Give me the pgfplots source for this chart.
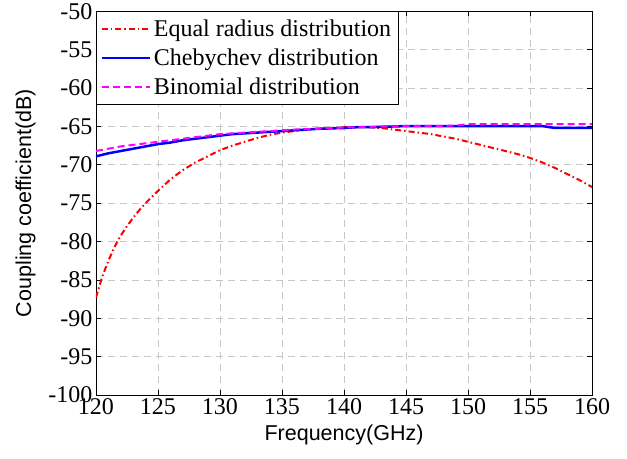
\documentclass[border=0pt]{standalone}
\usepackage{fontspec}
\setmainfont{Liberation Serif}
\newfontfamily\arial{Liberation Sans}
\usepackage{pgfplots}
\pgfplotsset{compat=1.18}
\definecolor{mred}{RGB}{255,0,0}
\definecolor{mblue}{RGB}{0,0,255}
\definecolor{mmag}{RGB}{255,0,255}
\begin{document}
\begin{tikzpicture}
\begin{axis}[
  width=496bp, height=383.5bp, scale only axis,
  xmin=120, xmax=160, ymin=-100, ymax=-50,
  xtick={120,125,...,160}, ytick={-100,-95,...,-50},
  grid=major,
  major grid style={color=black!22, dash pattern=on 7bp off 5bp, line width=0.7bp},
  tick align=inside, major tick length=5bp,
  axis line style={line width=0.7bp},
  tick style={black, line width=0.7bp},
  /pgf/number format/assume math mode=true,
  /pgf/number format/1000 sep={},
  tick label style={font=\fontsize{24bp}{28bp}\selectfont},
  xlabel={Frequency(GHz)}, ylabel={Coupling coefficient(dB)},
  label style={font=\arial\fontsize{21.5bp}{24bp}\selectfont},
  xlabel style={yshift=-3bp},
  ylabel style={yshift=6bp},
  legend style={at={(0,1)}, anchor=north west, draw=black, line width=0.7bp,
    font=\fontsize{24bp}{28bp}\selectfont, row sep=7bp, inner xsep=4bp, inner ysep=6bp,
    nodes={inner xsep=3bp}},
  legend cell align=left,
  legend image code/.code={\draw[#1] (2bp,0bp) -- (50bp,0bp);},
]
\addplot[mred, line width=2bp, dash pattern=on 6bp off 3bp on 1.5bp off 3bp] coordinates {
(120,-87.3) (120.5,-84.6) (121,-82.5) (121.5,-80.7) (122,-79.2) (122.5,-78.0) (123,-76.9)
(123.5,-75.9) (124,-75.0) (124.5,-74.2) (125,-73.4)
(126,-71.9) (127,-70.7) (128,-69.7) (129,-68.9) (130,-68.1) (131,-67.5) (132,-67.0)
(133,-66.5) (134,-66.1) (135,-65.8) (136,-65.6) (137,-65.4) (138,-65.3) (139,-65.2)
(140,-65.1) (141,-65.1) (142,-65.1) (143,-65.2) (144,-65.4) (145,-65.6) (146,-65.8)
(147,-66.0) (148,-66.3) (149,-66.6) (150,-67.0) (151,-67.4) (152,-67.8) (153,-68.2)
(154,-68.6) (155,-69.1) (156,-69.7) (157,-70.4) (158,-71.2) (159,-72.0) (160,-72.9)
};
\addlegendentry{Equal radius distribution}
\addplot[mblue, line width=2.5bp] coordinates {
(120,-68.9) (121,-68.5) (122,-68.2) (123,-67.9) (124,-67.6) (125,-67.3) (126,-67.1)
(127,-66.8) (128,-66.6) (129,-66.4) (130,-66.2) (131,-66.0) (132,-65.9) (133,-65.8)
(134,-65.7) (135,-65.6) (136,-65.5) (137,-65.4) (138,-65.3) (139,-65.25) (140,-65.2)
(141,-65.1) (142,-65.1) (143,-65.05) (144,-65.0) (145,-64.95) (150,-64.95) (156,-64.95)
(157,-65.2) (160,-65.2)
};
\addlegendentry{Chebychev distribution}
\addplot[mmag, line width=2bp, dash pattern=on 7bp off 4bp] coordinates {
(120,-68.2) (121,-67.9) (122,-67.6) (123,-67.4) (124,-67.2) (125,-67.0) (126,-66.8)
(127,-66.6) (128,-66.4) (129,-66.2) (130,-66.0) (131,-65.9) (132,-65.8) (133,-65.7)
(134,-65.6) (135,-65.5) (136,-65.4) (137,-65.35) (138,-65.3) (139,-65.2) (140,-65.15)
(141,-65.1) (142,-65.05) (143,-65.0) (144,-65.0) (145,-64.95) (149,-64.9) (150,-64.7)
(160,-64.7)
};
\addlegendentry{Binomial distribution}
\end{axis}
\path (current axis.south west) ++(-96bp,-64bp) coordinate (bbA);
\path (current axis.north east) ++(35bp,10.7bp) coordinate (bbB);
\path (bbA) rectangle (bbB);
\end{tikzpicture}
\end{document}
